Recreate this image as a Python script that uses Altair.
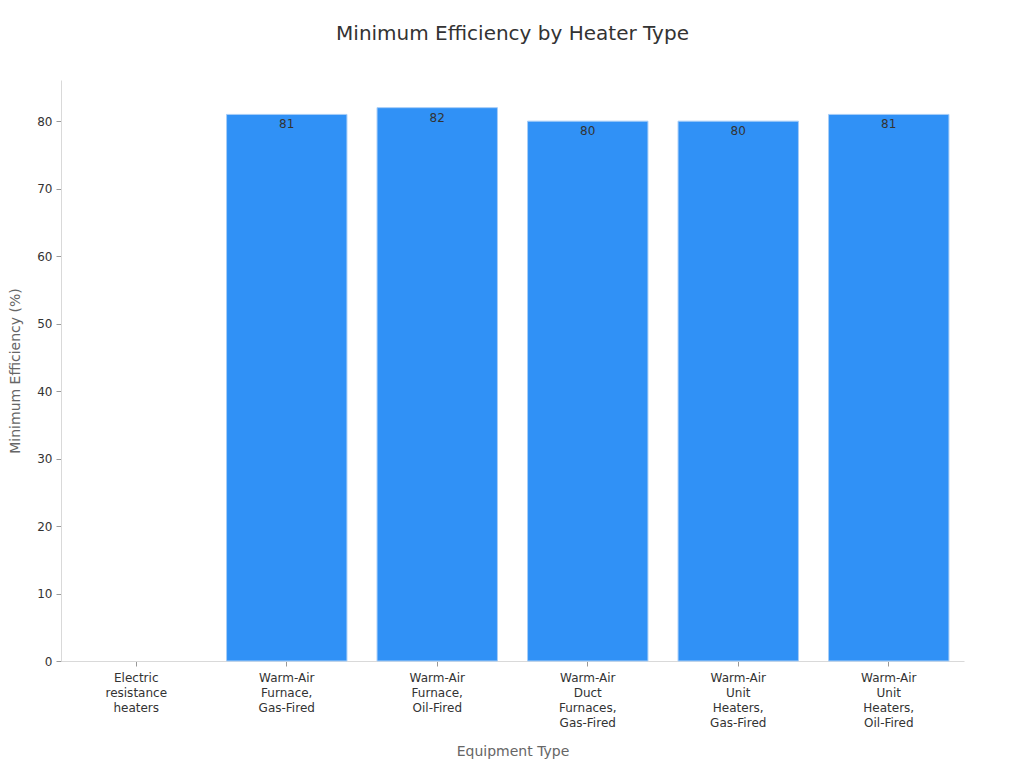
import altair as alt
import pandas as pd

categories = [
    "Electric resistance heaters",
    "Warm-Air Furnace, Gas-Fired",
    "Warm-Air Furnace, Oil-Fired",
    "Warm-Air Duct Furnaces, Gas-Fired",
    "Warm-Air Unit Heaters, Gas-Fired",
    "Warm-Air Unit Heaters, Oil-Fired",
]
efficiency = [None, 81, 82, 80, 80, 81]

df = pd.DataFrame({"type": categories, "eff": efficiency})

FONT = "DejaVu Sans"

base = alt.Chart(df).encode(
    x=alt.X(
        "type:N",
        sort=categories,
        title="Equipment Type",
        scale=alt.Scale(domain=categories, paddingInner=0.2, paddingOuter=0.1),
        axis=alt.Axis(
            labelAngle=0,
            labelExpr="split(datum.label, ' ')",
            labelFontSize=12,
            labelColor="#333333",
            labelFont=FONT,
            labelLineHeight=15,
            labelPadding=6,
            titleFont=FONT,
            titleFontSize=14,
            titleFontWeight="normal",
            titleColor="#666666",
            titlePadding=16,
            domainColor="#d9d9d9",
            tickColor="#999999",
            tickSize=5,
        ),
    ),
    y=alt.Y(
        "eff:Q",
        title="Minimum Efficiency (%)",
        scale=alt.Scale(domain=[0, 86.1], nice=False),
        axis=alt.Axis(
            values=[0, 10, 20, 30, 40, 50, 60, 70, 80],
            grid=False,
            labelFontSize=12,
            labelColor="#333333",
            labelFont=FONT,
            labelPadding=4,
            titleFont=FONT,
            titleFontSize=14,
            titleFontWeight="normal",
            titleColor="#666666",
            titlePadding=14,
            domainColor="#d9d9d9",
            tickColor="#999999",
            tickSize=5,
        ),
    ),
)

bars = base.mark_bar(
    color="#3091f6", stroke="#a6cdf7", strokeWidth=1
).transform_filter("isValid(datum.eff)")

labels = base.mark_text(
    baseline="top", dy=5, fontSize=12, color="#333333", font=FONT
).encode(text=alt.Text("eff:Q")).transform_filter("isValid(datum.eff)")

chart = (
    (bars + labels)
    .properties(
        width=903,
        height=581,
        title=alt.TitleParams(
            "Minimum Efficiency by Heater Type",
            fontSize=20,
            fontWeight="normal",
            font=FONT,
            color="#333333",
            anchor="middle",
            offset=36,
        ),
        autosize=alt.AutoSizeParams(type="none"),
        padding={"left": 53, "top": 72, "right": 52, "bottom": 99},
    )
    .configure(background="white")
    .configure_view(stroke=None)
)

chart.save("out.html", embed_options={"renderer": "svg", "actions": False})
